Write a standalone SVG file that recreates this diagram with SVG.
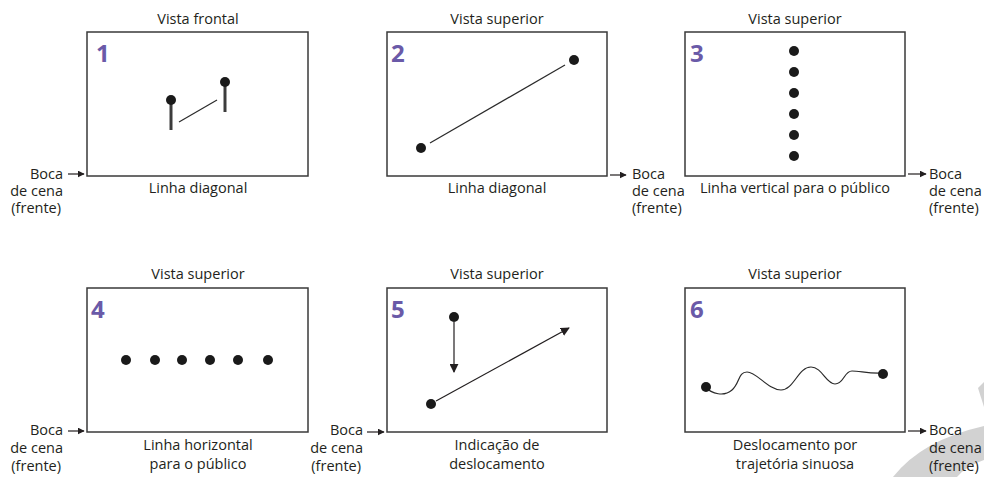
<svg xmlns="http://www.w3.org/2000/svg" width="984" height="477" viewBox="0 0 984 477">
  <style>
    text { font-family: "Open Sans", "Liberation Sans", sans-serif; font-size: 14.5px; fill: #231f20; }
    .mid { text-anchor: middle; }
    .end { text-anchor: end; }
    .num { font-size: 24px; font-weight: bold; fill: #6a5aa8; }
    .stage { fill: #ffffff; stroke: #3a3a3a; stroke-width: 1.5; }
    .dot { fill: #1a1a1a; }
    .path { fill: none; stroke: #2a2a2a; stroke-width: 1.2; }
    .stem { stroke: #3c3c3c; stroke-width: 3; }
    .pointer { stroke: #231f20; stroke-width: 1.2; fill: none; }
    .deco { fill: #d2d2d2; }
  </style>
  <defs>
    <marker id="tip" viewBox="0 0 10 10" refX="9" refY="5" markerWidth="7" markerHeight="7" markerUnits="userSpaceOnUse" orient="auto">
      <path d="M0,0 L10,5 L0,10 z" fill="#231f20"/>
    </marker>
    <marker id="tipBig" viewBox="0 0 10 10" refX="9" refY="5" markerWidth="9" markerHeight="9" markerUnits="userSpaceOnUse" orient="auto">
      <path d="M0,0 L10,5 L0,10 z" fill="#231f20"/>
    </marker>
  </defs>

  <!-- page decoration: light grey curved band at the lower right corner -->
  <path class="deco" d="M978,388 L984,382 L984,407 z"/>
  <path class="deco" d="M893,477 Q922,440 984,426 L984,460 Q966,466 957,477 z"/>

  <!-- 1: frontal view, diagonal line -->
  <g id="panel1">
    <text class="mid" x="198" y="24">Vista frontal</text>
    <rect class="stage" x="87" y="32" width="221" height="144"/>
    <text class="num" x="96" y="62">1</text>
    <line class="stem" x1="171" y1="100" x2="171" y2="130"/>
    <circle class="dot" cx="171" cy="100" r="5"/>
    <line class="stem" x1="225" y1="82" x2="225" y2="112"/>
    <circle class="dot" cx="225" cy="82" r="5"/>
    <line class="path" x1="179" y1="122" x2="217" y2="100"/>
    <text class="mid" x="198" y="193">Linha diagonal</text>
  </g>

  <!-- 2: top view, diagonal line -->
  <g id="panel2">
    <text class="mid" x="497" y="24">Vista superior</text>
    <rect class="stage" x="387" y="32" width="220" height="144"/>
    <text class="num" x="391" y="62">2</text>
    <line class="path" x1="430" y1="143" x2="565" y2="65"/>
    <circle class="dot" cx="421" cy="148" r="5"/>
    <circle class="dot" cx="574" cy="60" r="5"/>
    <text class="mid" x="497" y="193">Linha diagonal</text>
  </g>

  <!-- 3: top view, vertical line toward the audience -->
  <g id="panel3">
    <text class="mid" x="795" y="24">Vista superior</text>
    <rect class="stage" x="685" y="32" width="220" height="144"/>
    <text class="num" x="690" y="62">3</text>
    <circle class="dot" cx="794" cy="51" r="5"/>
    <circle class="dot" cx="794" cy="72" r="5"/>
    <circle class="dot" cx="794" cy="93" r="5"/>
    <circle class="dot" cx="794" cy="114" r="5"/>
    <circle class="dot" cx="794" cy="135" r="5"/>
    <circle class="dot" cx="794" cy="156" r="5"/>
    <text class="mid" x="795" y="193">Linha vertical para o público</text>
  </g>

  <!-- 4: top view, horizontal line -->
  <g id="panel4">
    <text class="mid" x="198" y="279">Vista superior</text>
    <rect class="stage" x="87" y="288" width="221" height="144"/>
    <text class="num" x="91" y="318">4</text>
    <circle class="dot" cx="126" cy="360" r="5"/>
    <circle class="dot" cx="155" cy="360" r="5"/>
    <circle class="dot" cx="182" cy="360" r="5"/>
    <circle class="dot" cx="210" cy="360" r="5"/>
    <circle class="dot" cx="238" cy="360" r="5"/>
    <circle class="dot" cx="268" cy="360" r="5"/>
    <text class="mid" x="198" y="450">Linha horizontal</text>
    <text class="mid" x="198" y="469">para o público</text>
  </g>

  <!-- 5: top view, movement indication -->
  <g id="panel5">
    <text class="mid" x="497" y="279">Vista superior</text>
    <rect class="stage" x="387" y="288" width="220" height="144"/>
    <text class="num" x="391" y="318">5</text>
    <circle class="dot" cx="454" cy="317" r="5"/>
    <circle class="dot" cx="431" cy="404" r="5"/>
    <text class="mid" x="497" y="450">Indicação de</text>
    <text class="mid" x="497" y="469">deslocamento</text>
  </g>

  <!-- 6: top view, winding path -->
  <g id="panel6">
    <text class="mid" x="795" y="279">Vista superior</text>
    <rect class="stage" x="685" y="288" width="220" height="144"/>
    <text class="num" x="690" y="318">6</text>
    <path class="path" stroke-width="1.4" d="M705,387 C712,394 724,397 732,390 C740,383 738,372 747,372 C757,372 768,390 781,390 C794,390 798,367 811,367 C822,367 826,384 835,384 C844,384 844,371 852,371 C860,371 870,374 883,373"/>
    <circle class="dot" cx="706" cy="387" r="5"/>
    <circle class="dot" cx="883" cy="374" r="5"/>
    <text class="mid" x="795" y="450">Deslocamento por</text>
    <text class="mid" x="795" y="469">trajetória sinuosa</text>
  </g>

  <!-- stage-front labels -->
  <g id="front-labels">
    <text class="end" x="63" y="179">Boca</text>
    <text class="end" x="63" y="196">de cena</text>
    <text class="end" x="61" y="213">(frente)</text>

    <text x="632" y="179">Boca</text>
    <text x="632" y="196">de cena</text>
    <text x="632" y="213">(frente)</text>

    <text x="929" y="179">Boca</text>
    <text x="929" y="196">de cena</text>
    <text x="929" y="213">(frente)</text>

    <text class="end" x="63" y="435">Boca</text>
    <text class="end" x="63" y="453">de cena</text>
    <text class="end" x="61" y="471">(frente)</text>

    <text class="end" x="363" y="435">Boca</text>
    <text class="end" x="363" y="453">de cena</text>
    <text class="end" x="361" y="471">(frente)</text>

    <text x="929" y="435">Boca</text>
    <text x="929" y="453">de cena</text>
    <text x="929" y="471">(frente)</text>
  </g>

  <!-- connectors: arrows -->
  <g id="connectors">
    <line class="pointer" x1="68" y1="174" x2="84" y2="174" marker-end="url(#tip)"/>
    <line class="pointer" x1="610" y1="175" x2="626" y2="175" marker-end="url(#tip)"/>
    <line class="pointer" x1="908" y1="174" x2="926" y2="174" marker-end="url(#tip)"/>
    <line class="pointer" x1="68" y1="431" x2="84" y2="431" marker-end="url(#tip)"/>
    <line class="pointer" x1="367" y1="432" x2="384" y2="432" marker-end="url(#tip)"/>
    <line class="pointer" x1="908" y1="431" x2="926" y2="431" marker-end="url(#tip)"/>
    <line class="pointer" stroke="#6a6a6a" stroke-width="1.5" x1="454" y1="322" x2="454" y2="372" marker-end="url(#tipBig)"/>
    <line class="pointer" x1="436" y1="401" x2="569" y2="328" marker-end="url(#tipBig)"/>
  </g>
</svg>
